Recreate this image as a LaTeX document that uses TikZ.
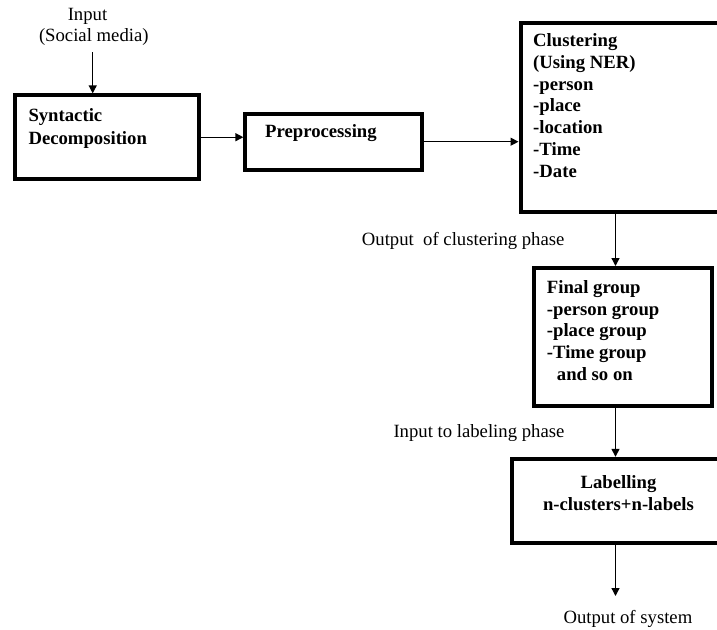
\documentclass[tikz,border=0pt]{standalone}
\usepackage{fontspec}
\setmainfont{Liberation Serif}
\usetikzlibrary{arrows.meta}
\begin{document}
\begin{tikzpicture}[x=1pt,y=-1pt,
  box/.style={draw, line width=4pt, inner sep=0pt, rectangle},
  arr/.style={line width=1.3pt, -{Triangle[length=8pt,width=8pt]}},
  lbl/.style={inner sep=0pt, anchor=base west, font=\fontsize{18.7}{21.7}\selectfont},
  btxt/.style={inner sep=0pt, anchor=base west, font=\fontsize{18.7}{21.7}\selectfont\bfseries},
]
\useasboundingbox (0,0) rectangle (717,629);
% boxes
\node[box, minimum width=183.4pt, minimum height=83.7pt] (syn) at (107,137.2) {};
\node[box, minimum width=176.7pt, minimum height=56pt] (pre) at (333.7,141.7) {};
\node[box, minimum width=219.5pt, minimum height=189.3pt] (clu) at (630.25,117.35) {};
\node[box, minimum width=178.2pt, minimum height=138pt] (fin) at (622.9,337) {};
\node[box, minimum width=228pt, minimum height=84.2pt] (lab) at (626,500.9) {};
% box texts
\node[btxt] (synt) at (28.3,121.7) {\begin{tabular}[t]{@{}l@{}}Syntactic\\[1pt]Decomposition\end{tabular}};
\node[btxt] (pret) at (265,137.7) {Preprocessing};
\node[btxt] (clut) at (533,46.8) {\begin{tabular}[t]{@{}l@{}}Clustering\\(Using NER)\\-person\\-place\\-location\\-Time\\-Date\end{tabular}};
\node[btxt] (fint) at (546.7,293.3) {\begin{tabular}[t]{@{}l@{}}Final group\\-person group\\-place group\\-Time group\\\hspace*{10pt}and so on\end{tabular}};
\node[btxt, anchor=base] (labt) at (618.5,488.3) {\begin{tabular}[t]{@{}c@{}}Labelling\\n-clusters+n-labels\end{tabular}};
% free labels
\node[lbl, anchor=base] (in1) at (87.5,20.7) {Input};
\node[lbl, anchor=base] (in2) at (93.8,41.5) {(Social media)};
\node[lbl] (ocl) at (361.7,245) {Output\ \ of clustering phase};
\node[lbl] (ilp) at (393.3,437.3) {Input to labeling phase};
\node[lbl] (osy) at (563.3,623.3) {Output of system};
% connectors
\coordinate (inA) at (92.7,52);
\draw[arr] (inA) -- (inA |- syn.north);
\draw[arr] (syn.east) -- (syn.east -| pre.west);
\draw[arr] (pre.east) -- (pre.east -| clu.west);
\coordinate (cx) at (615.5,0);
\draw[arr] (cx |- clu.south) -- (cx |- fin.north);
\draw[arr] (cx |- fin.south) -- (cx |- lab.north);
\coordinate (oE) at (615.5,596);
\draw[arr] (oE |- lab.south) -- (oE);
\end{tikzpicture}
\end{document}
